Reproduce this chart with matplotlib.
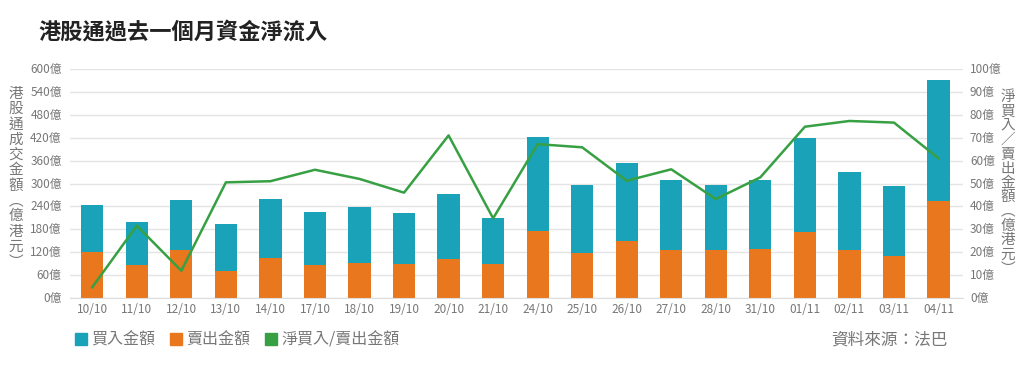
import numpy as np
import matplotlib.pyplot as plt
from matplotlib.lines import Line2D

plt.rcParams['font.family'] = ['Noto Sans CJK TC', 'DejaVu Sans']

dates = ['10/10', '11/10', '12/10', '13/10', '14/10', '17/10', '18/10', '19/10', '20/10', '21/10',
         '24/10', '25/10', '26/10', '27/10', '28/10', '31/10', '01/11', '02/11', '03/11', '04/11']
# 賣出金額 (orange, bottom) and total turnover (top of stack), 億港元
sell = [120, 86, 125, 71, 104, 86, 92, 88, 102, 88,
        176, 117, 150, 126, 126, 128, 172, 126, 109, 255]
total = [243, 199, 258, 193, 260, 226, 238, 222, 272, 209,
         422, 296, 354, 308, 296, 308, 420, 330, 293, 571]
buy = [t - s for t, s in zip(total, sell)]
# 淨買入/賣出金額 (green line, right axis)
net = [4.7, 31.6, 11.9, 50.5, 51, 56, 52, 46, 71, 34.8,
       67.2, 65.8, 51.2, 56.2, 43.2, 52.7, 74.8, 77.3, 76.6, 61]

TEAL = '#1aa3b8'
ORANGE = '#e8771e'
GREEN = '#37a043'
GRAY = '#777777'

fig = plt.figure(figsize=(10.24, 3.68), dpi=100)
ax = fig.add_axes([70 / 1024, 1 - 298 / 368, 893 / 1024, 229 / 368])
x = np.arange(len(dates))

ax.bar(x, sell, width=0.5, color=ORANGE, zorder=2)
ax.bar(x, buy, width=0.5, bottom=sell, color=TEAL, zorder=2)

ax.set_xlim(-0.5, 19.55)
ax.set_ylim(0, 600)
ax.set_yticks(range(0, 601, 60))
ax.set_yticklabels([f'{v}億' for v in range(0, 601, 60)])
ax.set_xticks(x)
ax.set_xticklabels(dates)
ax.grid(axis='y', color='#e4e4e4', linewidth=1, zorder=0)
for s in ['top', 'left', 'right']:
    ax.spines[s].set_visible(False)
ax.spines['bottom'].set_color('#dddddd')
ax.tick_params(axis='both', length=0, colors=GRAY, labelsize=8.5)
ax.tick_params(axis='y', pad=6)

ax2 = ax.twinx()
ax2.plot(x, net, color=GREEN, linewidth=1.8, zorder=3)
ax2.set_ylim(0, 100)
ax2.set_yticks(range(0, 101, 10))
ax2.set_yticklabels([f'{v}億' for v in range(0, 101, 10)])
for s in ['top', 'left', 'right', 'bottom']:
    ax2.spines[s].set_visible(False)
ax2.tick_params(axis='y', length=0, colors=GRAY, labelsize=8.5, pad=5)

fig.text(38 / 1024, 1 - 32 / 368, '港股通過去一個月資金淨流入', fontsize=16, fontweight='bold',
         color='#222222', va='center', ha='left')

left_label = '港股通成交金額︵億港元︶'
right_label = '淨買入／賣出金額︵億港元︶'
fig.text(16 / 1024, 1 - 178 / 368, '\n'.join(left_label), fontsize=10.5, color=GRAY,
         ha='center', va='center', linespacing=1.12)
fig.text(1008 / 1024, 1 - 183 / 368, '\n'.join(right_label), fontsize=10.5, color=GRAY,
         ha='center', va='center', linespacing=1.03)

handles = [Line2D([], [], marker='s', linestyle='none', markersize=8, color=c) for c in (TEAL, ORANGE, GREEN)]
fig.legend(handles, ['買入金額', '賣出金額', '淨買入/賣出金額'], loc='center left',
           bbox_to_anchor=(60 / 1024, 1 - 340 / 368), ncol=3, frameon=False,
           handlelength=0.8, handletextpad=0.25, columnspacing=0.9, labelcolor=GRAY,
           prop={'size': 11.5})
fig.text(948 / 1024, 1 - 340 / 368, '資料來源：法巴', fontsize=12, color=GRAY, ha='right', va='center')

fig.savefig('out.png', dpi=100)
